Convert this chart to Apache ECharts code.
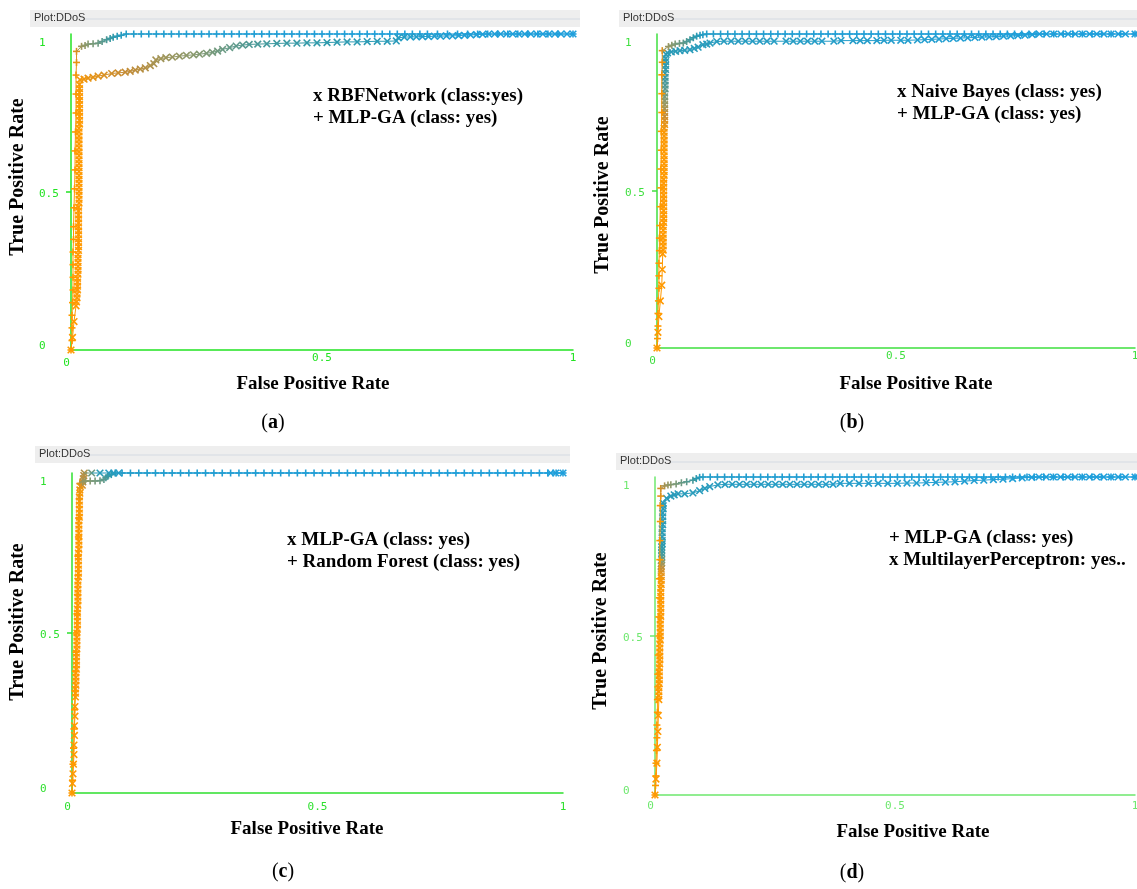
<!DOCTYPE html>
<html>
<head>
<meta charset="utf-8">
<title>ROC DDoS</title>
<script src="https://cdn.jsdelivr.net/npm/echarts@6.0.0/dist/echarts.min.js"></script>
<style>
html,body{margin:0;padding:0;background:#fff;}
#chartmain{width:1137px;height:889px;}
</style>
</head>
<body>
<div id="chartmain"></div>
<script>
// each point: [false positive rate, true positive rate, threshold]
var tickValues = [0, 0.5, 1];
var panelNames = ['(a)', '(b)', '(c)', '(d)'];
var legendTexts = [
	['x RBFNetwork (class:yes)', '+ MLP-GA (class: yes)'],
	['x Naive Bayes (class: yes)', '+ MLP-GA (class: yes)'],
	['x MLP-GA (class: yes)', '+ Random Forest (class: yes)'],
	['+ MLP-GA (class: yes)', 'x MultilayerPerceptron: yes..']
];

var rocA_rbf = [
	[0,0,1],[0.003,0.04,1],[0.006,0.09,1],[0.01,0.14,1],
	[0.011,0.152,1],[0.012,0.165,1],[0.012,0.177,1],[0.013,0.19,1],[0.013,0.202,1],[0.013,0.215,1],[0.013,0.227,1],[0.014,0.24,1],[0.014,0.252,1],
	[0.014,0.265,1],[0.014,0.277,1],[0.014,0.29,1],[0.014,0.302,1],[0.015,0.315,1],[0.015,0.327,1],[0.015,0.34,1],[0.015,0.352,1],[0.015,0.365,1],
	[0.015,0.377,1],[0.015,0.39,1],[0.015,0.402,1],[0.015,0.415,1],[0.015,0.427,1],[0.015,0.44,1],[0.015,0.452,1],[0.016,0.465,1],[0.016,0.477,1],
	[0.016,0.49,1],[0.016,0.502,1],[0.016,0.515,1],[0.016,0.527,1],[0.016,0.54,1],[0.016,0.552,1],[0.016,0.565,1],[0.016,0.577,1],[0.016,0.59,1],
	[0.016,0.602,1],[0.016,0.615,1],[0.016,0.627,1],[0.016,0.64,1],[0.016,0.652,1],[0.016,0.665,1],[0.016,0.677,1],[0.016,0.69,1],[0.016,0.702,1],
	[0.017,0.715,1],[0.017,0.727,1],[0.017,0.74,1],[0.017,0.752,1],[0.017,0.765,1],[0.017,0.777,1],[0.017,0.79,0.99],[0.017,0.802,0.99],[0.017,0.815,0.99],
	[0.017,0.827,0.98],[0.017,0.84,0.98],[0.018,0.855,0.97],
	[0.026,0.857,0.95],[0.034,0.86,0.93],[0.044,0.863,0.91],[0.054,0.867,0.89],[0.066,0.87,0.87],[0.081,0.875,0.84],[0.094,0.877,0.82],[0.108,0.879,0.8],
	[0.118,0.882,0.78],[0.128,0.886,0.76],[0.138,0.889,0.74],[0.148,0.893,0.72],[0.158,0.9,0.7],[0.165,0.906,0.68],[0.169,0.918,0.66],[0.179,0.922,0.64],
	[0.189,0.925,0.62],[0.202,0.927,0.6],[0.216,0.93,0.58],[0.23,0.932,0.56],[0.244,0.934,0.54],[0.256,0.936,0.52],[0.27,0.939,0.5],[0.282,0.942,0.48],
	[0.292,0.946,0.46],[0.302,0.951,0.44],[0.316,0.957,0.42],[0.329,0.962,0.4],[0.342,0.965,0.38],[0.355,0.967,0.36],[0.372,0.968,0.34],[0.39,0.969,0.32],
	[0.41,0.97,0.3],[0.43,0.971,0.29],[0.45,0.971,0.28],[0.47,0.972,0.27],[0.49,0.972,0.26],[0.51,0.973,0.25],[0.53,0.974,0.24],[0.55,0.975,0.23],
	[0.57,0.975,0.22],[0.59,0.976,0.21],[0.61,0.977,0.2],[0.63,0.977,0.19],[0.648,0.978,0.18],[0.652,0.988,0.15],[0.664,0.99,0.12],[0.676,0.991,0.1],
	[0.688,0.991,0.09],[0.7,0.992,0.08],[0.712,0.992,0.07],[0.724,0.993,0.06],[0.736,0.993,0.055],[0.748,0.994,0.05],[0.76,0.994,0.045],[0.772,0.995,0.04],
	[0.784,0.996,0.035],[0.796,0.997,0.03],[0.808,0.998,0.026],[0.82,0.999,0.022],[0.832,1,0.019],[0.844,1,0.016],[0.856,1,0.014],[0.868,1,0.012],
	[0.88,1,0.01],[0.892,1,0.009],[0.904,1,0.008],[0.916,1,0.007],[0.928,1,0.006],[0.94,1,0.005],[0.952,1,0.004],[0.964,1,0.003],[0.976,1,0.002],
	[0.988,1,0.001],[1,1,0]
];
var rocA_mlpga = [
	[0,0,1],[0.002,0.03,1],[0.002,0.07,1],[0.002,0.11,1],[0.003,0.15,1],[0.004,0.19,1],[0.004,0.23,1],[0.004,0.27,1],[0.004,0.31,1],[0.005,0.35,1],
	[0.005,0.39,1],[0.006,0.45,1],[0.007,0.51,1],[0.008,0.57,1],[0.008,0.63,1],[0.009,0.69,0.99],[0.01,0.75,0.99],[0.01,0.81,0.98],[0.01,0.87,0.96],
	[0.011,0.91,0.93],[0.011,0.945,0.88],
	[0.021,0.961,0.62],[0.028,0.964,0.57],[0.034,0.968,0.53],[0.044,0.969,0.49],[0.054,0.971,0.45],[0.062,0.976,0.4],[0.071,0.982,0.35],[0.078,0.986,0.3],
	[0.084,0.99,0.26],[0.092,0.993,0.2],[0.1,0.996,0.15],[0.11,1,0.11],
	[0.125,1,0.09],[0.14,1,0.08],[0.155,1,0.075],[0.17,1,0.07],[0.185,1,0.066],[0.2,1,0.062],[0.215,1,0.058],[0.23,1,0.055],[0.245,1,0.052],[0.26,1,0.05],
	[0.275,1,0.048],[0.29,1,0.046],[0.305,1,0.044],[0.32,1,0.042],[0.335,1,0.04],[0.35,1,0.038],[0.365,1,0.036],[0.38,1,0.035],[0.395,1,0.034],[0.41,1,0.033],
	[0.425,1,0.032],[0.44,1,0.031],[0.455,1,0.03],[0.47,1,0.029],[0.485,1,0.028],[0.5,1,0.027],[0.515,1,0.026],[0.53,1,0.025],[0.545,1,0.024],[0.56,1,0.023],
	[0.575,1,0.022],[0.59,1,0.021],[0.605,1,0.02],[0.62,1,0.019],[0.635,1,0.018],[0.65,1,0.017],[0.665,1,0.016],[0.68,1,0.015],[0.695,1,0.014],[0.71,1,0.013],
	[0.73,1,0.012],[0.75,1,0.011],[0.77,1,0.01],[0.79,1,0.009],[0.81,1,0.008],[0.83,1,0.007],[0.85,1,0.006],[0.87,1,0.005],[0.89,1,0.004],[0.91,1,0.003],
	[0.93,1,0.002],[0.95,1,0.001],[0.97,1,0.001],[1,1,0]
];

var rocB_nb = [
	[0,0,1],[0.002,0.05,1],[0.004,0.1,1],[0.007,0.15,1],[0.01,0.2,1],[0.011,0.25,1],[0.012,0.3,1],
	[0.013,0.312,1],[0.013,0.325,1],[0.013,0.337,1],[0.013,0.35,1],[0.013,0.362,1],[0.013,0.375,1],[0.013,0.387,1],[0.014,0.4,1],[0.014,0.412,1],
	[0.014,0.425,1],[0.014,0.437,1],[0.014,0.45,1],[0.014,0.462,1],[0.014,0.475,1],[0.014,0.487,1],[0.014,0.5,1],[0.014,0.512,1],[0.014,0.525,1],
	[0.014,0.537,1],[0.015,0.55,1],[0.015,0.562,1],[0.015,0.575,1],[0.015,0.587,1],[0.015,0.6,1],[0.015,0.612,1],[0.015,0.625,1],[0.015,0.637,1],
	[0.015,0.65,0.99],[0.015,0.662,0.99],[0.015,0.675,0.98],[0.015,0.687,0.97],[0.015,0.7,0.95],[0.016,0.712,0.92],[0.016,0.725,0.88],[0.016,0.737,0.82],
	[0.016,0.75,0.76],[0.016,0.762,0.69],[0.016,0.775,0.62],[0.016,0.787,0.56],[0.016,0.8,0.5],[0.016,0.812,0.45],[0.017,0.825,0.4],[0.017,0.837,0.36],
	[0.017,0.85,0.33],[0.017,0.862,0.3],[0.017,0.875,0.28],[0.018,0.887,0.26],[0.018,0.9,0.24],[0.018,0.912,0.23],[0.018,0.922,0.22],[0.019,0.935,0.2],
	[0.022,0.94,0.2],[0.03,0.943,0.19],[0.039,0.945,0.19],[0.048,0.947,0.18],[0.058,0.948,0.18],[0.069,0.95,0.18],[0.078,0.954,0.17],[0.086,0.958,0.17],
	[0.096,0.966,0.16],[0.104,0.968,0.16],[0.111,0.971,0.16],[0.125,0.976,0.15],
	[0.14,0.977,0.15],[0.155,0.977,0.14],[0.17,0.977,0.14],[0.185,0.977,0.14],[0.2,0.977,0.13],[0.215,0.977,0.13],[0.23,0.977,0.13],[0.245,0.977,0.12],
	[0.27,0.977,0.12],[0.285,0.977,0.12],[0.3,0.977,0.11],[0.315,0.977,0.11],[0.33,0.977,0.11],[0.345,0.977,0.1],[0.37,0.977,0.1],[0.385,0.979,0.1],
	[0.41,0.979,0.09],[0.425,0.979,0.09],[0.44,0.979,0.09],[0.46,0.979,0.08],[0.475,0.98,0.08],[0.49,0.98,0.08],[0.51,0.98,0.07],[0.525,0.98,0.07],
	[0.545,0.981,0.07],[0.56,0.982,0.06],[0.575,0.983,0.06],[0.59,0.984,0.06],[0.605,0.985,0.05],[0.62,0.986,0.05],[0.635,0.987,0.05],[0.65,0.988,0.04],
	[0.665,0.989,0.04],[0.68,0.99,0.04],[0.695,0.991,0.03],[0.71,0.992,0.03],[0.725,0.993,0.03],[0.74,0.994,0.02],[0.755,0.995,0.02],[0.77,0.996,0.02],
	[0.785,0.998,0.015],[0.8,1,0.01],[0.815,1,0.01],[0.83,1,0.009],[0.845,1,0.008],[0.86,1,0.007],[0.875,1,0.006],[0.89,1,0.005],[0.905,1,0.004],
	[0.92,1,0.004],[0.935,1,0.003],[0.95,1,0.002],[0.965,1,0.002],[0.98,1,0.001],[1,1,0]
];
var rocB_mlpga = [
	[0,0,1],[0.001,0.03,1],[0.002,0.07,1],[0.002,0.11,1],[0.003,0.15,1],[0.004,0.19,1],[0.004,0.23,1],[0.004,0.27,1],[0.005,0.31,1],[0.005,0.35,1],
	[0.006,0.39,1],[0.007,0.45,1],[0.008,0.51,1],[0.008,0.57,1],[0.009,0.63,1],[0.009,0.69,1],[0.01,0.75,0.99],[0.01,0.81,0.98],[0.01,0.87,0.96],
	[0.011,0.91,0.93],[0.011,0.947,0.88],
	[0.024,0.96,0.6],[0.031,0.964,0.55],[0.038,0.968,0.5],[0.047,0.97,0.46],[0.055,0.971,0.42],[0.062,0.976,0.37],[0.069,0.982,0.32],[0.076,0.988,0.27],
	[0.083,0.993,0.22],[0.09,0.996,0.17],[0.096,0.998,0.13],[0.104,1,0.1],
	[0.118,1,0.09],[0.133,1,0.085],[0.148,1,0.08],[0.163,1,0.075],[0.178,1,0.07],[0.193,1,0.066],[0.208,1,0.062],[0.223,1,0.058],[0.238,1,0.055],
	[0.253,1,0.052],[0.268,1,0.05],[0.283,1,0.048],[0.298,1,0.046],[0.313,1,0.044],[0.328,1,0.042],[0.343,1,0.04],[0.358,1,0.038],[0.373,1,0.036],
	[0.388,1,0.035],[0.403,1,0.034],[0.418,1,0.033],[0.433,1,0.032],[0.448,1,0.031],[0.463,1,0.03],[0.478,1,0.029],[0.493,1,0.028],[0.508,1,0.027],
	[0.523,1,0.026],[0.538,1,0.025],[0.553,1,0.024],[0.568,1,0.023],[0.583,1,0.022],[0.598,1,0.021],[0.613,1,0.02],[0.628,1,0.019],[0.643,1,0.018],
	[0.658,1,0.017],[0.673,1,0.016],[0.688,1,0.015],[0.703,1,0.014],[0.718,1,0.013],[0.733,1,0.012],[0.748,1,0.011],[0.763,1,0.01],[0.778,1,0.009],
	[0.793,1,0.008],[0.81,1,0.007],[0.83,1,0.006],[0.85,1,0.005],[0.87,1,0.004],[0.89,1,0.003],[0.91,1,0.002],[0.93,1,0.002],[0.95,1,0.001],
	[0.97,1,0.001],[1,1,0]
];

var rocC_mlpga = [
	[0,0,1],[0.001,0.03,1],[0.002,0.06,1],[0.003,0.09,1],[0.004,0.12,1],[0.004,0.15,1],[0.005,0.18,1],[0.005,0.21,1],[0.006,0.24,1],[0.006,0.27,1],
	[0.007,0.3,1],[0.007,0.312,1],[0.007,0.325,1],[0.008,0.337,1],[0.008,0.35,1],[0.008,0.362,1],[0.008,0.375,1],[0.009,0.387,1],[0.009,0.4,1],
	[0.009,0.412,1],[0.009,0.425,1],[0.009,0.437,1],[0.01,0.45,1],[0.01,0.462,1],[0.01,0.475,1],[0.01,0.487,1],[0.01,0.5,1],[0.011,0.512,1],
	[0.011,0.525,1],[0.011,0.537,1],[0.011,0.55,1],[0.011,0.562,1],[0.011,0.575,1],[0.012,0.587,1],[0.012,0.6,1],[0.012,0.612,1],[0.012,0.625,1],
	[0.012,0.637,1],[0.012,0.65,1],[0.012,0.662,1],[0.013,0.675,1],[0.013,0.687,1],[0.013,0.7,1],[0.013,0.712,1],[0.013,0.725,1],[0.013,0.737,1],
	[0.013,0.75,1],[0.014,0.762,1],[0.014,0.775,1],[0.014,0.787,1],[0.014,0.8,1],[0.014,0.812,1],[0.014,0.825,1],[0.014,0.837,1],[0.014,0.85,1],
	[0.015,0.862,1],[0.015,0.875,1],[0.015,0.887,1],[0.015,0.9,1],[0.015,0.912,0.99],[0.015,0.925,0.99],[0.016,0.937,0.98],[0.016,0.947,0.97],
	[0.017,0.958,0.93],
	[0.021,0.962,0.85],[0.022,0.972,0.8],[0.023,0.982,0.77],[0.024,0.992,0.74],[0.025,1,0.7],[0.04,1,0.45],[0.057,1,0.2],[0.075,1,0.13],[0.085,1,0.11],
	[0.095,1,0.1],[0.975,1,0.01],[0.985,1,0.005],[1,1,0]
];
var rocC_rf = [
	[0,0,1],[0.001,0.04,1],[0.002,0.09,1],[0.003,0.14,1],[0.004,0.2,1],[0.005,0.26,1],[0.006,0.32,1],[0.007,0.38,1],[0.008,0.44,1],[0.009,0.5,1],
	[0.01,0.56,1],[0.011,0.62,1],[0.012,0.68,1],[0.012,0.74,1],[0.013,0.8,1],[0.014,0.86,0.99],[0.015,0.92,0.97],[0.016,0.967,0.9],
	[0.022,0.972,0.62],[0.027,0.975,0.56],[0.037,0.975,0.52],[0.047,0.975,0.48],[0.057,0.976,0.45],[0.065,0.98,0.4],[0.069,0.985,0.35],[0.073,0.99,0.3],
	[0.08,0.995,0.22],[0.088,1,0.15],
	[0.102,1,0.1],[0.119,1,0.09],[0.136,1,0.085],[0.153,1,0.08],[0.17,1,0.075],[0.187,1,0.07],[0.204,1,0.066],[0.221,1,0.062],[0.238,1,0.058],
	[0.255,1,0.055],[0.272,1,0.052],[0.289,1,0.05],[0.306,1,0.048],[0.323,1,0.046],[0.34,1,0.044],[0.357,1,0.042],[0.374,1,0.04],[0.391,1,0.038],
	[0.408,1,0.036],[0.425,1,0.035],[0.442,1,0.034],[0.459,1,0.033],[0.476,1,0.032],[0.493,1,0.031],[0.51,1,0.03],[0.527,1,0.029],[0.544,1,0.028],
	[0.561,1,0.027],[0.578,1,0.026],[0.595,1,0.025],[0.612,1,0.024],[0.629,1,0.023],[0.646,1,0.022],[0.663,1,0.021],[0.68,1,0.02],[0.697,1,0.019],
	[0.714,1,0.018],[0.731,1,0.017],[0.748,1,0.016],[0.765,1,0.015],[0.782,1,0.014],[0.799,1,0.013],[0.816,1,0.012],[0.833,1,0.011],[0.85,1,0.01],
	[0.867,1,0.009],[0.884,1,0.008],[0.901,1,0.007],[0.918,1,0.006],[0.935,1,0.005],[0.952,1,0.004],[0.969,1,0.003],[0.986,1,0.002],[1,1,0]
];

var rocD_mlpga = [
	[0,0,1],[0.001,0.03,1],[0.002,0.06,1],[0.002,0.1,1],[0.003,0.14,1],[0.004,0.18,1],[0.004,0.22,1],[0.005,0.26,1],[0.005,0.3,1],[0.006,0.34,1],
	[0.006,0.38,1],[0.007,0.44,1],[0.008,0.5,1],[0.008,0.56,1],[0.009,0.62,1],[0.009,0.68,1],[0.01,0.74,1],[0.01,0.8,0.99],[0.011,0.86,0.97],
	[0.011,0.91,0.95],[0.012,0.94,0.92],[0.012,0.964,0.85],
	[0.02,0.972,0.68],[0.027,0.975,0.6],[0.033,0.976,0.55],[0.044,0.978,0.5],[0.055,0.982,0.45],[0.066,0.985,0.4],[0.079,0.99,0.33],[0.086,0.995,0.25],
	[0.093,0.999,0.17],[0.1,1,0.12],
	[0.115,1,0.09],[0.13,1,0.085],[0.145,1,0.08],[0.16,1,0.075],[0.175,1,0.07],[0.19,1,0.066],[0.205,1,0.062],[0.22,1,0.058],[0.235,1,0.055],
	[0.25,1,0.052],[0.265,1,0.05],[0.28,1,0.048],[0.295,1,0.046],[0.31,1,0.044],[0.325,1,0.042],[0.34,1,0.04],[0.355,1,0.038],[0.37,1,0.036],
	[0.385,1,0.035],[0.4,1,0.034],[0.415,1,0.033],[0.43,1,0.032],[0.445,1,0.031],[0.46,1,0.03],[0.475,1,0.029],[0.49,1,0.028],[0.505,1,0.027],
	[0.52,1,0.026],[0.535,1,0.025],[0.55,1,0.024],[0.565,1,0.023],[0.58,1,0.022],[0.595,1,0.021],[0.61,1,0.02],[0.625,1,0.019],[0.64,1,0.018],
	[0.655,1,0.017],[0.67,1,0.016],[0.685,1,0.015],[0.7,1,0.014],[0.715,1,0.013],[0.73,1,0.012],[0.745,1,0.011],[0.76,1,0.01],[0.775,1,0.009],
	[0.79,1,0.008],[0.81,1,0.007],[0.83,1,0.006],[0.85,1,0.005],[0.87,1,0.004],[0.89,1,0.003],[0.91,1,0.002],[0.93,1,0.002],[0.95,1,0.001],
	[0.97,1,0.001],[1,1,0]
];
var rocD_mlp = [
	[0,0,1],[0.002,0.05,1],[0.004,0.1,1],[0.005,0.15,1],[0.006,0.2,1],[0.007,0.25,1],[0.008,0.3,1],
	[0.008,0.312,1],[0.008,0.325,1],[0.008,0.337,1],[0.009,0.35,1],[0.009,0.362,1],[0.009,0.375,1],[0.009,0.387,1],[0.009,0.4,1],[0.01,0.412,1],
	[0.01,0.425,1],[0.01,0.437,1],[0.01,0.45,1],[0.01,0.462,1],[0.01,0.475,1],[0.011,0.487,1],[0.011,0.5,1],[0.011,0.512,1],[0.011,0.525,1],
	[0.011,0.537,1],[0.011,0.55,1],[0.012,0.562,1],[0.012,0.575,1],[0.012,0.587,1],[0.012,0.6,1],[0.012,0.612,1],[0.012,0.625,1],[0.012,0.637,1],
	[0.012,0.65,0.99],[0.013,0.662,0.98],[0.013,0.675,0.97],[0.013,0.687,0.94],[0.013,0.7,0.9],[0.013,0.71,0.83],[0.013,0.72,0.75],[0.014,0.73,0.62],
	[0.014,0.74,0.5],[0.014,0.75,0.4],[0.014,0.76,0.32],[0.014,0.77,0.28],[0.014,0.78,0.25],[0.015,0.79,0.23],[0.015,0.8,0.22],[0.015,0.812,0.21],
	[0.015,0.825,0.21],[0.015,0.837,0.2],[0.016,0.85,0.2],[0.016,0.862,0.2],[0.016,0.875,0.19],[0.016,0.887,0.19],[0.017,0.9,0.19],[0.017,0.91,0.19],
	[0.017,0.918,0.19],
	[0.024,0.933,0.18],[0.033,0.94,0.18],[0.04,0.944,0.18],[0.048,0.947,0.17],[0.062,0.947,0.17],[0.079,0.95,0.17],[0.093,0.957,0.16],[0.104,0.964,0.16],
	[0.114,0.97,0.15],[0.131,0.975,0.15],
	[0.146,0.977,0.15],[0.161,0.977,0.14],[0.176,0.977,0.14],[0.191,0.977,0.14],[0.206,0.977,0.13],[0.221,0.977,0.13],[0.236,0.977,0.13],[0.251,0.977,0.12],
	[0.266,0.977,0.12],[0.281,0.977,0.12],[0.296,0.977,0.11],[0.311,0.977,0.11],[0.326,0.977,0.11],[0.341,0.977,0.1],[0.356,0.977,0.1],[0.371,0.977,0.1],
	[0.386,0.98,0.09],[0.405,0.98,0.09],[0.425,0.98,0.09],[0.445,0.98,0.08],[0.465,0.98,0.08],[0.485,0.98,0.08],[0.505,0.98,0.07],[0.525,0.981,0.07],
	[0.545,0.981,0.07],[0.565,0.982,0.06],[0.585,0.983,0.06],[0.605,0.984,0.06],[0.625,0.985,0.05],[0.645,0.987,0.05],[0.665,0.989,0.04],[0.685,0.99,0.04],
	[0.705,0.992,0.03],[0.725,0.993,0.03],[0.745,0.995,0.02],[0.765,0.997,0.02],[0.785,0.999,0.015],[0.8,1,0.01],[0.815,1,0.009],[0.83,1,0.008],
	[0.845,1,0.007],[0.86,1,0.006],[0.875,1,0.005],[0.89,1,0.005],[0.905,1,0.004],[0.92,1,0.004],[0.935,1,0.003],[0.95,1,0.002],[0.965,1,0.002],
	[0.98,1,0.001],[1,1,0]
];

// which curve goes in which panel, with its marker
var panelCurves = [
	[[rocA_mlpga, '+'], [rocA_rbf, 'x']],
	[[rocB_nb, 'x'], [rocB_mlpga, '+']],
	[[rocC_mlpga, 'x'], [rocC_rf, '+']],
	[[rocD_mlp, 'x'], [rocD_mlpga, '+']]
];

// page layout of the four Weka screenshots
var layout = [
	{grid:{left:71,top:34,width:502,height:316}, green:'#22e322', head:[30,10,550], yTitle:[18,177], xTitle:[313,384], sub:[273,423], legend:[313,96], xMargin:3, zeroDrop:5},
	{grid:{left:657,top:34,width:478,height:314}, green:'#3fdf3f', head:[619,10,518], yTitle:[603,195], xTitle:[916,384], sub:[852,423], legend:[897,92], xMargin:3, zeroDrop:5},
	{grid:{left:72,top:473,width:491,height:320}, green:'#2ee02e', head:[35,446,535], yTitle:[18,622], xTitle:[307,829], sub:[283,872], legend:[287,540], xMargin:9, zeroDrop:0},
	{grid:{left:655,top:477,width:480,height:318}, green:'#6ee86e', head:[616,453,521], yTitle:[601,631], xTitle:[913,832], sub:[852,873], legend:[889,538], xMargin:6, zeroDrop:0}
];

var colorStops = [[0,[31,159,219]],[0.25,[46,154,172]],[0.55,[142,154,108]],[0.8,[198,140,52]],[1,[255,153,0]]];
function thresholdColor(t){
	for (var k = 1; k < colorStops.length; k++) {
		var a = colorStops[k-1], b = colorStops[k];
		if (t <= b[0]) {
			var f = (t - a[0]) / (b[0] - a[0]);
			var c = [0,1,2].map(function(j){ return Math.round(a[1][j] + (b[1][j] - a[1][j]) * f); });
			return 'rgb(' + c.join(',') + ')';
		}
	}
	return 'rgb(255,153,0)';
}

function rocSeries(idx, data, mark){
	return {
		type: 'custom',
		xAxisIndex: idx,
		yAxisIndex: idx,
		data: data,
		encode: {x: 0, y: 1},
		clip: false,
		silent: true,
		renderItem: function(params, api){
			var i = params.dataIndex;
			var p = api.coord([api.value(0), api.value(1)]);
			var col = thresholdColor(api.value(2));
			var kids = [];
			if (i > 0) {
				var q = api.coord([data[i-1][0], data[i-1][1]]);
				kids.push({type:'line', shape:{x1:q[0],y1:q[1],x2:p[0],y2:p[1]}, style:{stroke:col, lineWidth:1}});
			}
			var segs = mark == '+' ? [[-3.5,0,3.5,0],[0,-3.5,0,3.5]] : [[-3.3,-3.3,3.3,3.3],[-3.3,3.3,3.3,-3.3]];
			segs.forEach(function(d){
				kids.push({type:'line', shape:{x1:p[0]+d[0],y1:p[1]+d[1],x2:p[0]+d[2],y2:p[1]+d[3]}, style:{stroke:col, lineWidth:1.6}});
			});
			return {type:'group', children:kids};
		}
	};
}

var serif = '"Liberation Serif", "Times New Roman", serif';
var mono = '"DejaVu Sans Mono", monospace';

function txt(x, y, text, font, extra){
	var st = {text:text, font:font, fill:'#000', align:'center', verticalAlign:'middle', textAlign:'center', textVerticalAlign:'middle'};
	var el = {type:'text', x:x, y:y, silent:true, style:st};
	if (extra) for (var k in extra) el[k] = extra[k];
	return el;
}

var grids = [], xAxes = [], yAxes = [], series = [], graphics = [];
layout.forEach(function(l, i){
	grids.push(Object.assign({containLabel:false, outerBoundsMode:'none'}, l.grid));
	var lbl = {color:l.green, fontFamily:mono, fontSize:11};
	xAxes.push({
		gridIndex:i, type:'value', min:tickValues[0], max:tickValues[2], interval:tickValues[1],
		axisLine:{show:true, onZero:false, lineStyle:{color:l.green, width:1.5}},
		axisTick:{show:false}, splitLine:{show:false},
		axisLabel:{margin:l.xMargin, formatter:function(v){ return v === 0 ? '{z|0}' : '{n|' + v + '}'; },
			rich:{n:lbl, z:Object.assign({padding:[l.zeroDrop,9,0,0]}, lbl)}}
	});
	yAxes.push({
		gridIndex:i, type:'value', min:tickValues[0], max:tickValues[2], interval:tickValues[1],
		axisLine:{show:true, onZero:false, lineStyle:{color:l.green, width:1.5}},
		axisTick:{show:true, customValues:[0.5], length:5, lineStyle:{color:l.green, width:1.5}},
		splitLine:{show:false},
		axisLabel:{align:'left', margin:32,
			formatter:function(v){ return v === 1 ? '{one|1}' : (v === 0 ? '{zero|0}' : '{half|0.5}'); },
			rich:{one:Object.assign({padding:[18,0,0,0]}, lbl), half:Object.assign({padding:[4,0,0,0]}, lbl), zero:Object.assign({padding:[0,0,7,0]}, lbl)}}
	});
	panelCurves[i].forEach(function(c){ series.push(rocSeries(i, c[0], c[1])); });

	// Weka window header
	var h = l.head;
	graphics.push({type:'rect', silent:true, shape:{x:h[0], y:h[1], width:h[2], height:17}, style:{fill:'#eeeeee'}});
	graphics.push({type:'line', silent:true, shape:{x1:h[0]+55, y1:h[1]+9, x2:h[0]+h[2], y2:h[1]+9}, style:{stroke:'#d4dae2', lineWidth:1}});
	graphics.push({type:'text', silent:true, x:h[0]+4, y:h[1]+8,
		style:{text:'Plot:DDoS', font:'11px "Liberation Sans", sans-serif', fill:'#333', align:'left', verticalAlign:'middle', textAlign:'left', textVerticalAlign:'middle'}});

	graphics.push(txt(l.yTitle[0], l.yTitle[1], 'True Positive Rate', 'bold 20px ' + serif, {rotation:Math.PI/2}));
	graphics.push(txt(l.xTitle[0], l.xTitle[1], 'False Positive Rate', 'bold 19px ' + serif));
	var sub = txt(l.sub[0], l.sub[1], '(' + '{b|' + panelNames[i].charAt(1) + '}' + ')', '20px ' + serif);
	sub.style.rich = {b:{fontWeight:'bold', fontSize:20, fontFamily:serif}};
	graphics.push(sub);
	legendTexts[i].forEach(function(t, k){
		var el = txt(l.legend[0], l.legend[1] + k * 22.5, t, 'bold 19px ' + serif);
		el.style.align = 'left'; el.style.textAlign = 'left';
		graphics.push(el);
	});
});

var option = {
	animation: false,
	backgroundColor: '#ffffff',
	grid: grids,
	xAxis: xAxes,
	yAxis: yAxes,
	series: series,
	graphic: graphics
};
var myChart = echarts.init(document.getElementById('chartmain'));
myChart.setOption(option);
</script>
</body>
</html>
